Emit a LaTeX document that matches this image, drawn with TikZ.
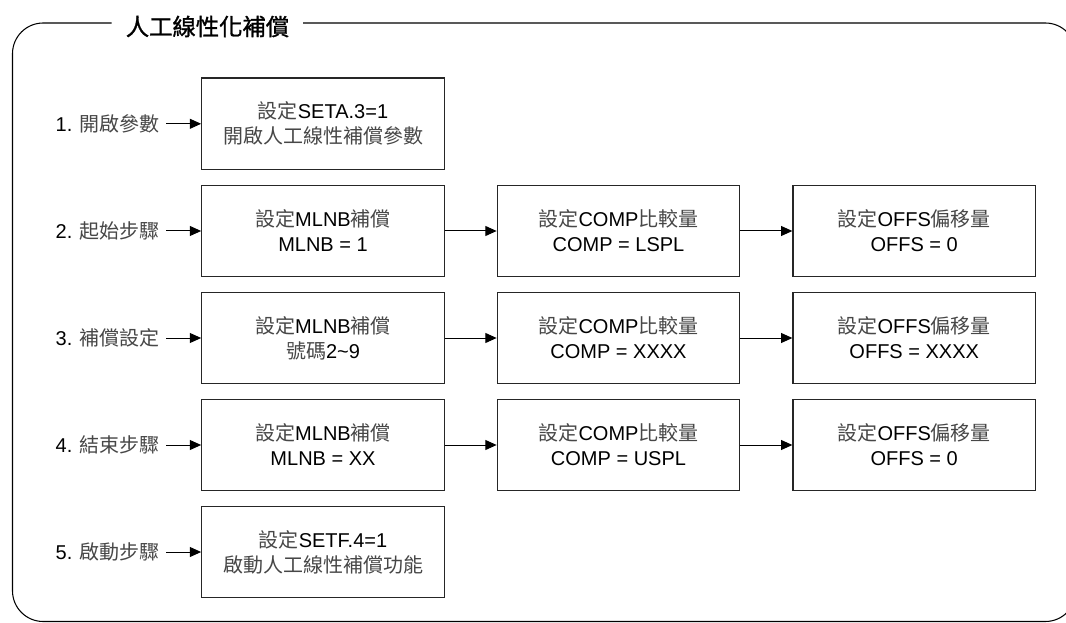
\documentclass[tikz,border=0pt]{standalone}
\usepackage{fontspec}
\setmainfont{Liberation Sans}
\newfontfamily\cjkfont{Noto Sans CJK TC}
\newfontfamily\cjktitlefont[FakeBold=1.2]{Noto Sans CJK TC}
\newcommand\zhtc[1]{{\cjkfont\color{black!72}#1}}
\usetikzlibrary{arrows.meta}
\begin{document}
\begin{tikzpicture}[x=0.75pt,y=-0.75pt,
  box/.style={draw=black!85, line width=0.9pt, minimum width=181.9pt, minimum height=68.6pt,
    align=center, font=\fontsize{15}{18.75}\selectfont, inner sep=0pt},
  lbl/.style={anchor=east, font=\fontsize{15}{18}\selectfont, inner sep=4.5pt},
  conn/.style={-{Triangle[length=8.5pt,width=7.5pt]}, line width=0.75pt},
  frame/.style={line width=0.8pt, rounded corners=23pt}
]
\useasboundingbox (0,0) rectangle (1066,623);
\clip (0,0) rectangle (1066,623);

% frame with title
\draw[frame] (111.7,23) -- (12.5,23) -- (12.5,621.5) -- (1076,621.5) -- (1076,23) -- (303,23);
\node[font=\fontsize{17.5}{20}\selectfont\cjktitlefont, inner sep=0pt] (title) at (207.5,26.5) {人工線性化補償};

% boxes
\node[box] (b1)  at (323,123.8) {\zhtc{設定}SETA.3=1\\\zhtc{開啟人工線性補償參數}};

\node[box] (b2a) at (323,231)   {\zhtc{設定}MLNB\zhtc{補償}\\MLNB = 1};
\node[box] (b2b) at (618.5,231) {\zhtc{設定}COMP\zhtc{比較量}\\COMP = LSPL};
\node[box] (b2c) at (914.2,231) {\zhtc{設定}OFFS\zhtc{偏移量}\\OFFS = 0};

\node[box] (b3a) at (323,338)   {\zhtc{設定}MLNB\zhtc{補償}\\\zhtc{號碼}2\textasciitilde 9};
\node[box] (b3b) at (618.5,338) {\zhtc{設定}COMP\zhtc{比較量}\\COMP = XXXX};
\node[box] (b3c) at (914.2,338) {\zhtc{設定}OFFS\zhtc{偏移量}\\OFFS = XXXX};

\node[box] (b4a) at (323,445)   {\zhtc{設定}MLNB\zhtc{補償}\\MLNB = XX};
\node[box] (b4b) at (618.5,445) {\zhtc{設定}COMP\zhtc{比較量}\\COMP = USPL};
\node[box] (b4c) at (914.2,445) {\zhtc{設定}OFFS\zhtc{偏移量}\\OFFS = 0};

\node[box] (b5)  at (323,552)   {\zhtc{設定}SETF.4=1\\\zhtc{啟動人工線性補償功能}};

% left labels
\node[lbl] (l1) at (166,123.8) {1. \zhtc{開啟參數}};
\node[lbl] (l2) at (166,231)   {2. \zhtc{起始步驟}};
\node[lbl] (l3) at (166,338)   {3. \zhtc{補償設定}};
\node[lbl] (l4) at (166,445)   {4. \zhtc{結束步驟}};
\node[lbl] (l5) at (166,552)   {5. \zhtc{啟動步驟}};

% connectors
\draw[conn] (l1) -- (b1);
\draw[conn] (l2) -- (b2a);
\draw[conn] (l3) -- (b3a);
\draw[conn] (l4) -- (b4a);
\draw[conn] (l5) -- (b5);
\draw[conn] (b2a) -- (b2b);
\draw[conn] (b2b) -- (b2c);
\draw[conn] (b3a) -- (b3b);
\draw[conn] (b3b) -- (b3c);
\draw[conn] (b4a) -- (b4b);
\draw[conn] (b4b) -- (b4c);
\end{tikzpicture}
\end{document}
